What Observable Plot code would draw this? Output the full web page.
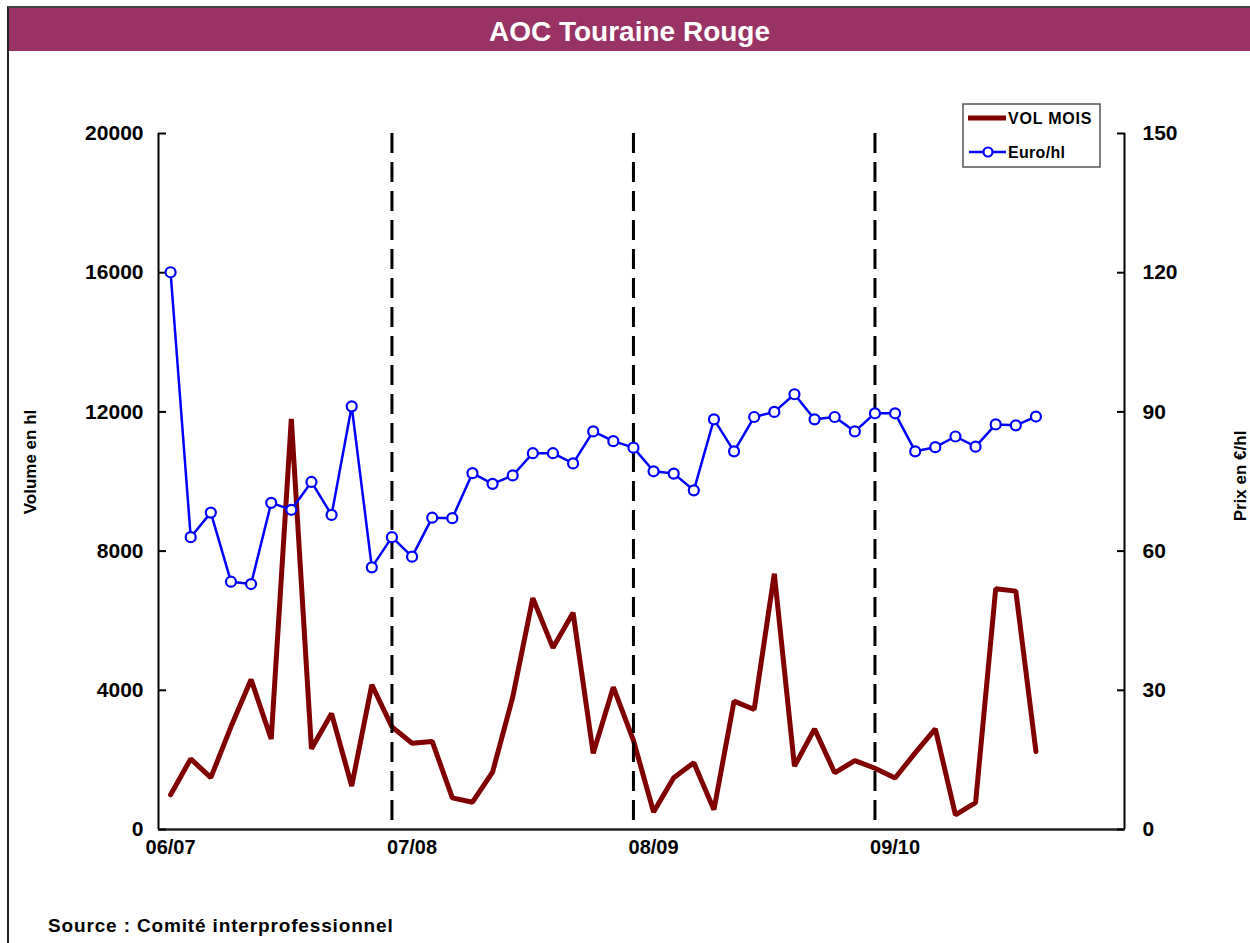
<!DOCTYPE html>
<html>
<head>
<meta charset="utf-8">
<script src="https://cdn.jsdelivr.net/npm/d3@7"></script>
<script src="https://cdn.jsdelivr.net/npm/@observablehq/plot@0.6"></script>
<style>
  html, body { margin: 0; padding: 0; background: #fff; }
  #wrap { position: relative; width: 1250px; height: 943px; overflow: hidden; font-family: Arial, "Liberation Sans", sans-serif; }
  #wrap > svg { position: absolute; left: 0; top: 0; }
  #frame { position: absolute; left: 7px; top: 6px; width: 1260px; height: 960px; border-left: 2px solid #222; border-top: 2px solid #444; box-sizing: border-box; }
  #titlebar { position: absolute; left: 9px; top: 8px; width: 1241px; height: 43px; background: #993366; color: #fff; font-weight: bold; font-size: 28px; text-align: center; line-height: 47px; }
  #source { position: absolute; left: 48px; top: 915px; font-weight: bold; font-size: 19px; letter-spacing: 0.85px; color: #000; }
  #overlay { position: absolute; left: 0; top: 0; pointer-events: none; }
</style>
</head>
<body>
<div id="wrap">
  <div id="frame"></div>
  <div id="titlebar">AOC Touraine Rouge</div>
  <div id="chart"></div>
  <div id="source">Source : Comité interprofessionnel</div>
</div>
<script>
// ---- Data ----
const seasons = ["06/07", "07/08", "08/09", "09/10"];
const volume = [1000, 2030, 1490, 2950, 4310, 2600, 11800, 2320, 3330, 1250, 4160, 2950,
                2480, 2530, 910, 785, 1650, 3800, 6650, 5220, 6230, 2190, 4090, 2560,
                500, 1490, 1920, 570, 3690, 3450, 7350, 1820, 2890, 1630, 1980, 1760,
                1480, 2200, 2890, 420, 770, 6920, 6850, 2240];
const price = [120.1, 63.0, 68.3, 53.4, 52.9, 70.4, 68.9, 74.9, 67.8, 91.2, 56.5, 63.0,
               58.8, 67.2, 67.1, 76.8, 74.5, 76.3, 81.1, 81.1, 78.9, 85.8, 83.7, 82.3,
               77.2, 76.7, 73.1, 88.4, 81.5, 88.9, 90.0, 93.8, 88.4, 88.9, 85.8, 89.7,
               89.7, 81.5, 82.4, 84.7, 82.5, 87.3, 87.1, 89.0];
const seasonStarts = [0, 12, 24, 36];      // month index where each season label sits
const separators = [11, 23, 35];           // month index of the dashed season separators
const volumeTicks = [0, 4000, 8000, 12000, 16000, 20000];
const priceTicks = [0, 30, 60, 90, 120, 150];
const volumeMax = 20000, priceMax = 150;

const ratio = volumeMax / priceMax; // maps €/hl onto the volume scale (dual axis)
const volData = volume.map((v, i) => ({i, v}));
const priceData = price.map((p, i) => ({i, p: p * ratio}));

const chart = Plot.plot({
  width: 1250,
  height: 943,
  marginLeft: 158,
  marginRight: 126,
  marginTop: 133,
  marginBottom: 114,
  style: {fontFamily: 'Arial, "Liberation Sans", sans-serif', fontWeight: "bold", fontSize: "21px", color: "#000", background: "transparent", overflow: "visible"},
  x: {domain: [-0.6, 47.4]},
  y: {domain: [0, volumeMax]},
  marks: [
    // axis lines
    Plot.ruleX([-0.6], {stroke: "#000", strokeWidth: 2}),
    Plot.ruleX([47.4], {stroke: "#000", strokeWidth: 2}),
    Plot.ruleY([0], {stroke: "#222", strokeWidth: 2.5}),
    // left axis: labels
    Plot.axisY({ticks: volumeTicks, tickFormat: d => String(d), tickSize: 0, tickPadding: 15, label: null, fontSize: 21, fontWeight: "bold", style: {letterSpacing: "1.4px"}}),
    // left axis: inward ticks
    Plot.axisY({ticks: volumeTicks, tickSize: 8, dx: 8, tickFormat: () => "", label: null, strokeWidth: 2}),
    // right axis: labels
    Plot.axisY({anchor: "right", ticks: priceTicks.map(p => p * ratio), tickFormat: d => String(Math.round(d / ratio)), tickSize: 0, tickPadding: 18, label: null, fontSize: 21, fontWeight: "bold", style: {letterSpacing: "0.6px"}}),
    // right axis: inward ticks
    Plot.axisY({anchor: "right", ticks: priceTicks.map(p => p * ratio), tickSize: 8, dx: -8, tickFormat: () => "", label: null, strokeWidth: 2}),
    // x axis labels
    Plot.axisX({ticks: seasonStarts, tickFormat: i => seasons[seasonStarts.indexOf(i)], tickSize: 0, tickPadding: 10, label: null, fontSize: 20, fontWeight: "bold", style: {letterSpacing: "0.6px"}}),
    // volume line
    Plot.line(volData, {x: "i", y: "v", stroke: "#800000", strokeWidth: 5, strokeLinejoin: "miter"}),
    // season separators
    Plot.ruleX(separators, {stroke: "#000", strokeWidth: 3, strokeDasharray: "20,9"}),
    // price line + markers
    Plot.line(priceData, {x: "i", y: "p", stroke: "#0000ff", strokeWidth: 2.5}),
    Plot.dot(priceData, {x: "i", y: "p", r: 5, fill: "#fff", stroke: "#0000ff", strokeWidth: 2.2})
  ]
});
document.getElementById("chart").appendChild(chart);

// ---- Overlay: axis titles and legend ----
const ns = "http://www.w3.org/2000/svg";
const ov = document.createElementNS(ns, "svg");
ov.setAttribute("id", "overlay");
ov.setAttribute("width", 1250);
ov.setAttribute("height", 943);
function el(tag, attrs, text) {
  const e = document.createElementNS(ns, tag);
  for (const k in attrs) e.setAttribute(k, attrs[k]);
  if (text != null) e.textContent = text;
  ov.appendChild(e);
  return e;
}
const font = 'Arial, "Liberation Sans", sans-serif';
el("text", {transform: "translate(36,462) rotate(-90)", "text-anchor": "middle", "font-family": font, "font-weight": "bold", "font-size": 17, fill: "#000"}, "Volume en hl");
el("text", {transform: "translate(1246,476) rotate(-90)", "text-anchor": "middle", "font-family": font, "font-weight": "bold", "font-size": 17, fill: "#000"}, "Prix en €/hl");
// legend
el("rect", {x: 963, y: 104, width: 137, height: 63, fill: "#fff", stroke: "#555", "stroke-width": 1.5});
el("line", {x1: 968, x2: 1006, y1: 118, y2: 118, stroke: "#800000", "stroke-width": 5});
el("text", {x: 1008, y: 124, "font-family": font, "font-weight": "bold", "font-size": 16, "letter-spacing": "0.8px", fill: "#000"}, "VOL MOIS");
el("line", {x1: 969, x2: 1006, y1: 152, y2: 152, stroke: "#0000ff", "stroke-width": 2.5});
el("circle", {cx: 988, cy: 152, r: 4.5, fill: "#fff", stroke: "#0000ff", "stroke-width": 2.2});
el("text", {x: 1008, y: 158, "font-family": font, "font-weight": "bold", "font-size": 16, "letter-spacing": "0.3px", fill: "#000"}, "Euro/hl");
document.getElementById("wrap").appendChild(ov);
</script>
</body>
</html>
